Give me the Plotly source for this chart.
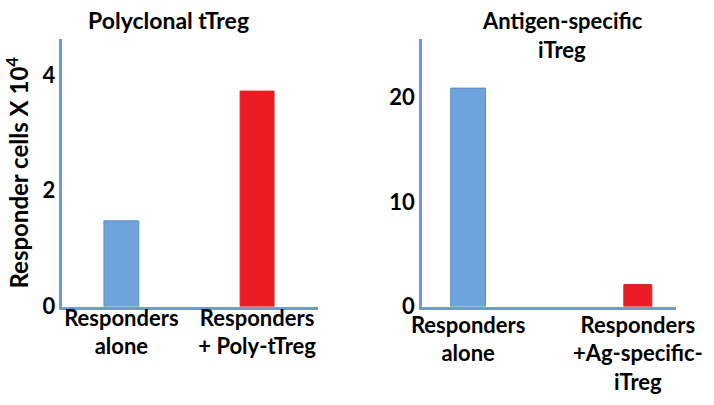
import plotly.graph_objects as go

# ---- data ----
left_title = "Polyclonal tTreg"
left_categories = ["Responders<br>alone", "Responders<br>+ Poly-tTreg"]
left_values = [1.48, 3.72]
left_ticks = [0, 2, 4]

right_title_lines = ["Antigen-specific", "iTreg"]
right_categories = ["Responders<br>alone", "Responders<br>+Ag-specific-<br>iTreg"]
right_values = [20.9, 2.1]
right_ticks = [0, 10, 20]

y_title = "Responder cells X 10<sup>4</sup>"

# ---- style ----
FONT = "Lato"
BLUE = "#6ea3dc"
BLUE_LINE = "#5b8fcd"
RED = "#ec1c24"
RED_LINE = "#c8282c"
AXIS = "#6b9ad4"

fig = go.Figure()

fig.add_trace(go.Bar(
    x=[0, 1], y=left_values, width=[0.257, 0.25],
    marker=dict(color=[BLUE, RED], line=dict(color=[BLUE_LINE, RED], width=1)),
    xaxis="x", yaxis="y", showlegend=False,
))
fig.add_trace(go.Bar(
    x=[0, 1], y=right_values, width=[0.205, 0.165],
    marker=dict(color=[BLUE, RED], line=dict(color=[BLUE_LINE, RED_LINE], width=1)),
    xaxis="x2", yaxis="y2", showlegend=False,
))

tickfont = dict(family=FONT, size=22, color="black", weight="bold")
catfont = dict(family=FONT, size=22, color="black", weight="bold")
titlefont = dict(family=FONT, size=22, color="black", weight="bold")

ydom = [0.2432, 0.9037]
common = dict(showline=True, linecolor=AXIS, linewidth=2.5, showgrid=False,
              zeroline=False, ticks="", automargin=False)

fig.update_layout(
    width=714, height=405,
    margin=dict(l=0, r=0, t=0, b=0),
    paper_bgcolor="white", plot_bgcolor="white",
    font=dict(family=FONT, color="black"),
    xaxis=dict(
        domain=[0.0875, 0.4454], range=[-0.434, 1.449],
        tickmode="array", tickvals=[0, 1], ticktext=left_categories,
        tickfont=catfont, anchor="y", ticklabelstandoff=-10, **common,
    ),
    yaxis=dict(
        domain=ydom, range=[0, 4.62],
        tickmode="array", tickvals=left_ticks, tickfont=tickfont, anchor="x",
        title=dict(text=y_title, font=dict(family=FONT, size=24, color="black", weight="bold"), standoff=8),
        **common,
    ),
    xaxis2=dict(
        domain=[0.591, 0.9468], range=[-0.272, 1.225],
        tickmode="array", tickvals=[0, 1], ticktext=right_categories,
        tickfont=catfont, anchor="y2", ticklabelstandoff=-3, **common,
    ),
    yaxis2=dict(
        domain=ydom, range=[0, 25.6],
        tickmode="array", tickvals=right_ticks, tickfont=tickfont, anchor="x2",
        **common,
    ),
    annotations=[
        dict(text=left_title, xref="paper", yref="paper", x=168 / 714, y=1 - 20 / 405,
             xanchor="center", yanchor="middle", showarrow=False,
             font=dict(family=FONT, size=23, color="black", weight="bold")),
        dict(text=right_title_lines[0], xref="paper", yref="paper", x=562 / 714, y=1 - 20 / 405,
             xanchor="center", yanchor="middle", showarrow=False, font=titlefont),
        dict(text=right_title_lines[1], xref="paper", yref="paper", x=562 / 714, y=1 - 49 / 405,
             xanchor="center", yanchor="middle", showarrow=False, font=titlefont),
    ],
)

fig.write_html("out.html", config={"displayModeBar": False},
               post_script="document.body.style.margin='0';")
